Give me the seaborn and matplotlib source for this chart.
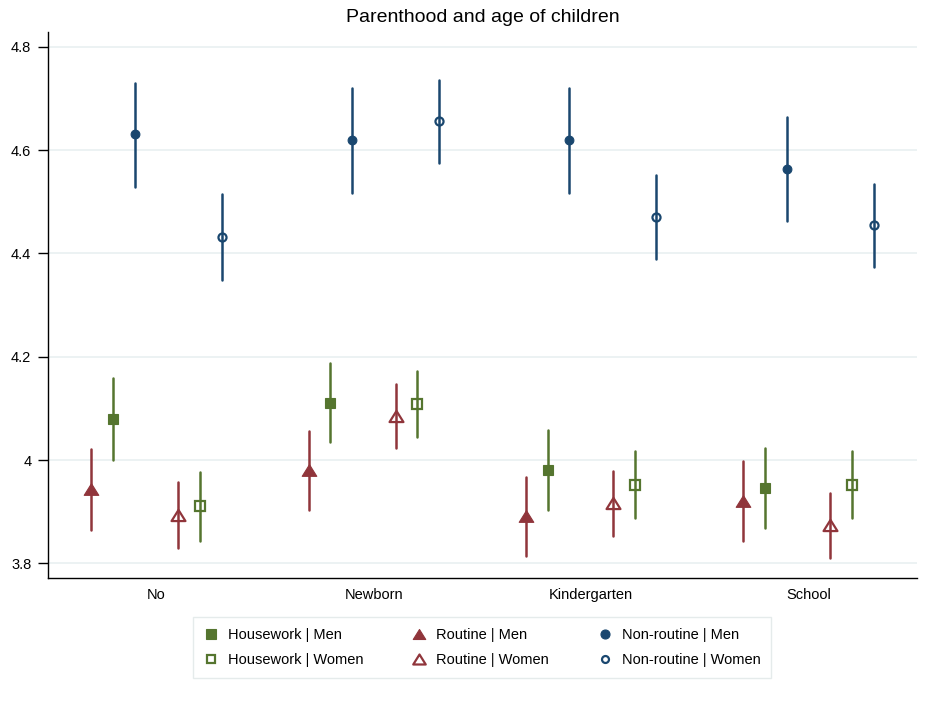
import numpy as np
import pandas as pd
import matplotlib
matplotlib.use("Agg")
import matplotlib.pyplot as plt
from matplotlib.lines import Line2D
from matplotlib.path import Path
import seaborn as sns

categories = ["No", "Newborn", "Kindergarten", "School"]

# point estimates with lower / upper CI bounds
routine_men = [3.943, 3.980, 3.892, 3.921]
routine_men_lo = [3.864, 3.903, 3.814, 3.843]
routine_men_hi = [4.021, 4.057, 3.968, 3.998]

housework_men = [4.080, 4.111, 3.981, 3.946]
housework_men_lo = [4.001, 4.034, 3.903, 3.869]
housework_men_hi = [4.158, 4.188, 4.059, 4.024]

nonroutine_men = [4.631, 4.619, 4.619, 4.564]
nonroutine_men_lo = [4.528, 4.518, 4.517, 4.462]
nonroutine_men_hi = [4.731, 4.720, 4.720, 4.665]

routine_women = [3.894, 4.086, 3.916, 3.874]
routine_women_lo = [3.829, 4.024, 3.853, 3.811]
routine_women_hi = [3.958, 4.148, 3.979, 3.937]

housework_women = [3.910, 4.109, 3.952, 3.952]
housework_women_lo = [3.843, 4.045, 3.887, 3.888]
housework_women_hi = [3.977, 4.172, 4.017, 4.017]

nonroutine_women = [4.432, 4.656, 4.471, 4.455]
nonroutine_women_lo = [4.348, 4.575, 4.390, 4.373]
nonroutine_women_hi = [4.515, 4.737, 4.553, 4.535]

ytick_values = [3.8, 4.0, 4.2, 4.4, 4.6, 4.8]

green = "#55752f"
maroon = "#90353b"
navy = "#1a476f"

tri = Path([(0, 0.8), (-1, -0.8), (1, -0.8), (0, 0.8)],
           [Path.MOVETO, Path.LINETO, Path.LINETO, Path.CLOSEPOLY])

# name, est, lo, hi, offset, marker, color, filled
series = [
    ("Routine | Men", routine_men, routine_men_lo, routine_men_hi, -0.3, tri, maroon, True),
    ("Housework | Men", housework_men, housework_men_lo, housework_men_hi, -0.2, "s", green, True),
    ("Non-routine | Men", nonroutine_men, nonroutine_men_lo, nonroutine_men_hi, -0.1, "o", navy, True),
    ("Routine | Women", routine_women, routine_women_lo, routine_women_hi, 0.1, tri, maroon, False),
    ("Housework | Women", housework_women, housework_women_lo, housework_women_hi, 0.2, "s", green, False),
    ("Non-routine | Women", nonroutine_women, nonroutine_women_lo, nonroutine_women_hi, 0.3, "o", navy, False),
]
# marker size (filled, hollow)
msize = {"s": (7.5, 6.5), "o": (6.3, 5.8), "tri": (10.5, 10)}

sns.set_style("white")
plt.rcParams["font.family"] = ["Liberation Sans", "DejaVu Sans"]
plt.rcParams["text.color"] = "black"
plt.rcParams["xtick.color"] = "black"
plt.rcParams["ytick.color"] = "black"
plt.rcParams["axes.labelcolor"] = "black"

fig = plt.figure(figsize=(9.31, 7.07), dpi=100)
ax = fig.add_axes([48 / 931, 1 - 578 / 707, (917 - 48) / 931, (578 - 32) / 707])

for name, est, lo, hi, off, mk, col, filled in series:
    rows = []
    for i, cat in enumerate(categories):
        for v in (lo[i], est[i], hi[i]):
            rows.append({"pos": i + off, "value": v})
    df = pd.DataFrame(rows)
    key = "tri" if mk is tri else mk
    ms = msize[key][0] if filled else msize[key][1]
    sns.pointplot(data=df, x="pos", y="value", native_scale=True,
                  estimator="median", errorbar=("pi", 100),
                  color=col, marker=mk, linestyle="none",
                  markersize=ms,
                  markerfacecolor=col if filled else "none",
                  markeredgecolor=col,
                  markeredgewidth=0.8 if filled else 1.6,
                  err_kws={"linewidth": 1.8, "color": col},
                  ax=ax)

ax.set_xlim(-0.5, 3.5)
ax.set_ylim(3.7715, 4.829)
ax.set_xticks(range(len(categories)))
ax.set_xticklabels(categories, fontsize=10.5, color="black")
ax.set_yticks(ytick_values)
ax.set_yticklabels([f"{v:g}" for v in ytick_values], fontsize=10.5, color="black")
ax.tick_params(axis="x", length=0, pad=7)
ax.tick_params(axis="y", length=7, width=1, color="black", pad=5, left=True)
ax.set_xlabel("")
ax.set_ylabel("")
ax.grid(axis="y", color="#eaf1f2", linewidth=1.3)
ax.grid(axis="x", visible=False)
ax.set_axisbelow(True)
for s in ["top", "right"]:
    ax.spines[s].set_visible(False)
for s in ["left", "bottom"]:
    ax.spines[s].set_color("black")
    ax.spines[s].set_linewidth(1.0)
ax.set_title("Parenthood and age of children", fontsize=14, pad=7, color="black")

handles = []
labels = []
for name, est, lo, hi, off, mk, col, filled in series:
    if mk is tri:
        lms = 9
    elif mk == "s":
        lms = 6.5 if filled else 5.5
    else:
        lms = 6.5 if filled else 5
    handles.append(Line2D([], [], linestyle="none", marker=mk, color=col,
                          markersize=lms,
                          markerfacecolor=col if filled else "none",
                          markeredgewidth=0.8 if filled else 1.6))
    labels.append(name)
order = [1, 4, 0, 3, 2, 5]
leg = fig.legend([handles[i] for i in order], [labels[i] for i in order],
                 ncol=3, loc="upper center", bbox_to_anchor=(482 / 931, 1 - 610 / 707),
                 frameon=True, fancybox=False, edgecolor="#dfe7e7", fontsize=10.5,
                 handlelength=1.0, handletextpad=0.65, columnspacing=3.35,
                 borderpad=0.75, labelspacing=0.75)
leg.get_frame().set_linewidth(1.0)
for t in leg.get_texts():
    t.set_color("black")

fig.savefig("out.png", dpi=100)
